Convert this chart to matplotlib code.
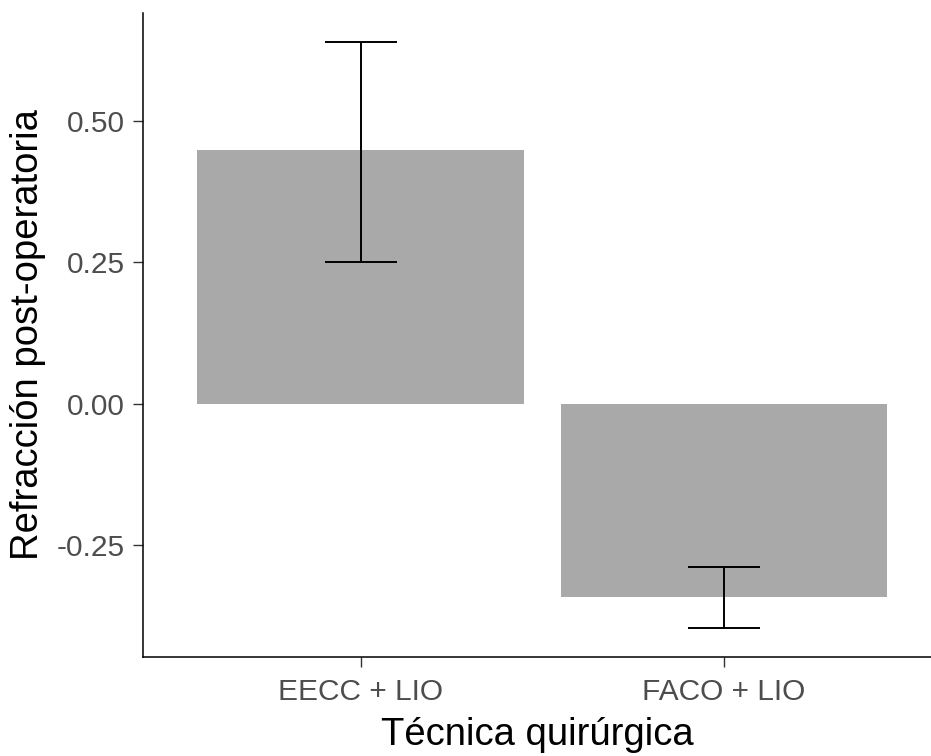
import matplotlib
matplotlib.use("Agg")
import matplotlib.pyplot as plt

# Data
tecnicas = ["EECC + LIO", "FACO + LIO"]
refraccion = [0.448, -0.341]
err_low = [0.250, -0.396]
err_high = [0.639, -0.289]

plt.rcParams["font.family"] = ["Liberation Sans", "DejaVu Sans"]

fig = plt.figure(figsize=(9.31, 7.56), dpi=100)
ax = fig.add_axes([143 / 931, 99 / 756, 1 - 143 / 931, (657 - 13) / 756])

x = [1, 2]
ax.bar(x, refraccion, width=0.9, color="#a9a9a9", zorder=1)

lower = [r - lo for r, lo in zip(refraccion, err_low)]
upper = [hi - r for r, hi in zip(refraccion, err_high)]
ax.errorbar(x, refraccion, yerr=[lower, upper], fmt="none", ecolor="black",
            elinewidth=1.4, capsize=25.6, capthick=1.4, zorder=2)

ax.set_xlim(0.4, 2.57)
ax.set_ylim(-0.448, 0.691)
ax.set_xticks(x)
ax.set_xticklabels(tecnicas)
ax.set_yticks([-0.25, 0.0, 0.25, 0.5])
ax.set_yticklabels(["-0.25", "0.00", "0.25", "0.50"])

ax.spines["top"].set_visible(False)
ax.spines["right"].set_visible(False)
for s in ("left", "bottom"):
    ax.spines[s].set_linewidth(1.1)
ax.tick_params(axis="both", length=7, width=1.0, color="#333333",
               labelsize=21.5, labelcolor="#4d4d4d")
ax.tick_params(axis="x", pad=8)
ax.tick_params(axis="y", pad=6)

ax.set_xlabel("Técnica quirúrgica", fontsize=27.5, color="black", labelpad=8)
ax.set_ylabel("Refracción post-operatoria", fontsize=27.5, color="black", labelpad=8)

fig.savefig("out.png", dpi=100)
